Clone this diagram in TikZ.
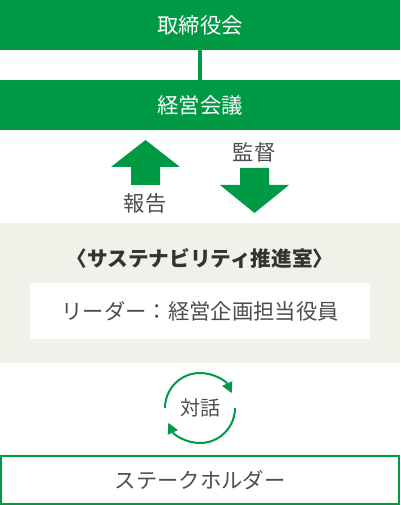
\documentclass[tikz,border=0pt]{standalone}
\usepackage{fontspec}
\usetikzlibrary{arrows.meta}
\newfontfamily\jpfont{Noto Sans CJK JP}
\definecolor{kgreen}{HTML}{009944}
\definecolor{kpanel}{HTML}{F0F2EA}
\definecolor{ktext}{HTML}{4D4D4D}
\tikzset{
  bar/.style={fill=kgreen,text=white,minimum width=300pt,minimum height=37.5pt,inner sep=0pt,font=\jpfont\fontsize{16}{16}\selectfont},
  label/.style={text=ktext,inner sep=0pt,font=\jpfont\fontsize{16}{16}\selectfont},
  cycle/.style={kgreen,line width=1.5pt,-{Triangle[length=8pt,width=8pt]}}
}
\begin{document}
\begin{tikzpicture}[x=0.75pt,y=-0.75pt]
\useasboundingbox (0,0) rectangle (400,505);
\node [bar] (board) at (200,25) {取締役会};
\node [bar] (mgmt) at (200,105) {経営会議};
\draw [kgreen,line width=3pt] (board.south) -- (mgmt.north);
% report / supervise
\fill [kgreen] (131,185) -- (131,167) -- (111,167) -- (145.5,140) -- (180,167) -- (160,167) -- (160,185) -- cycle;
\fill [kgreen] (240,168) -- (240,185) -- (220,185) -- (254.5,213) -- (289,185) -- (269,185) -- (269,168) -- cycle;
\node [label] (report) at (145,203) {報告};
\node [label] (audit) at (254,152) {監督};
% office
\node [fill=kpanel,minimum width=300pt,minimum height=105pt,inner sep=0pt] (office) at (200,293) {};
\node [label,text=black!80,font=\jpfont\bfseries\fontsize{15.5}{16}\selectfont] (title) at (200,258) {〈サステナビリティ推進室〉};
\node [label,fill=white,minimum width=255pt,minimum height=42pt] (leader) at (200,311) {リーダー：経営企画担当役員};
% dialogue
\node [label,font=\jpfont\fontsize{15}{15}\selectfont] (talk) at (200,408) {対話};
\draw [cycle] ([shift={(180:35)}]talk.center) arc (180:335:35);
\draw [cycle] ([shift={(0:35)}]talk.center) arc (0:155:35);
\node [label,draw=kgreen,line width=1.5pt,minimum width=298.5pt,minimum height=36pt] (stake) at (200,480) {ステークホルダー};
\end{tikzpicture}
\end{document}
